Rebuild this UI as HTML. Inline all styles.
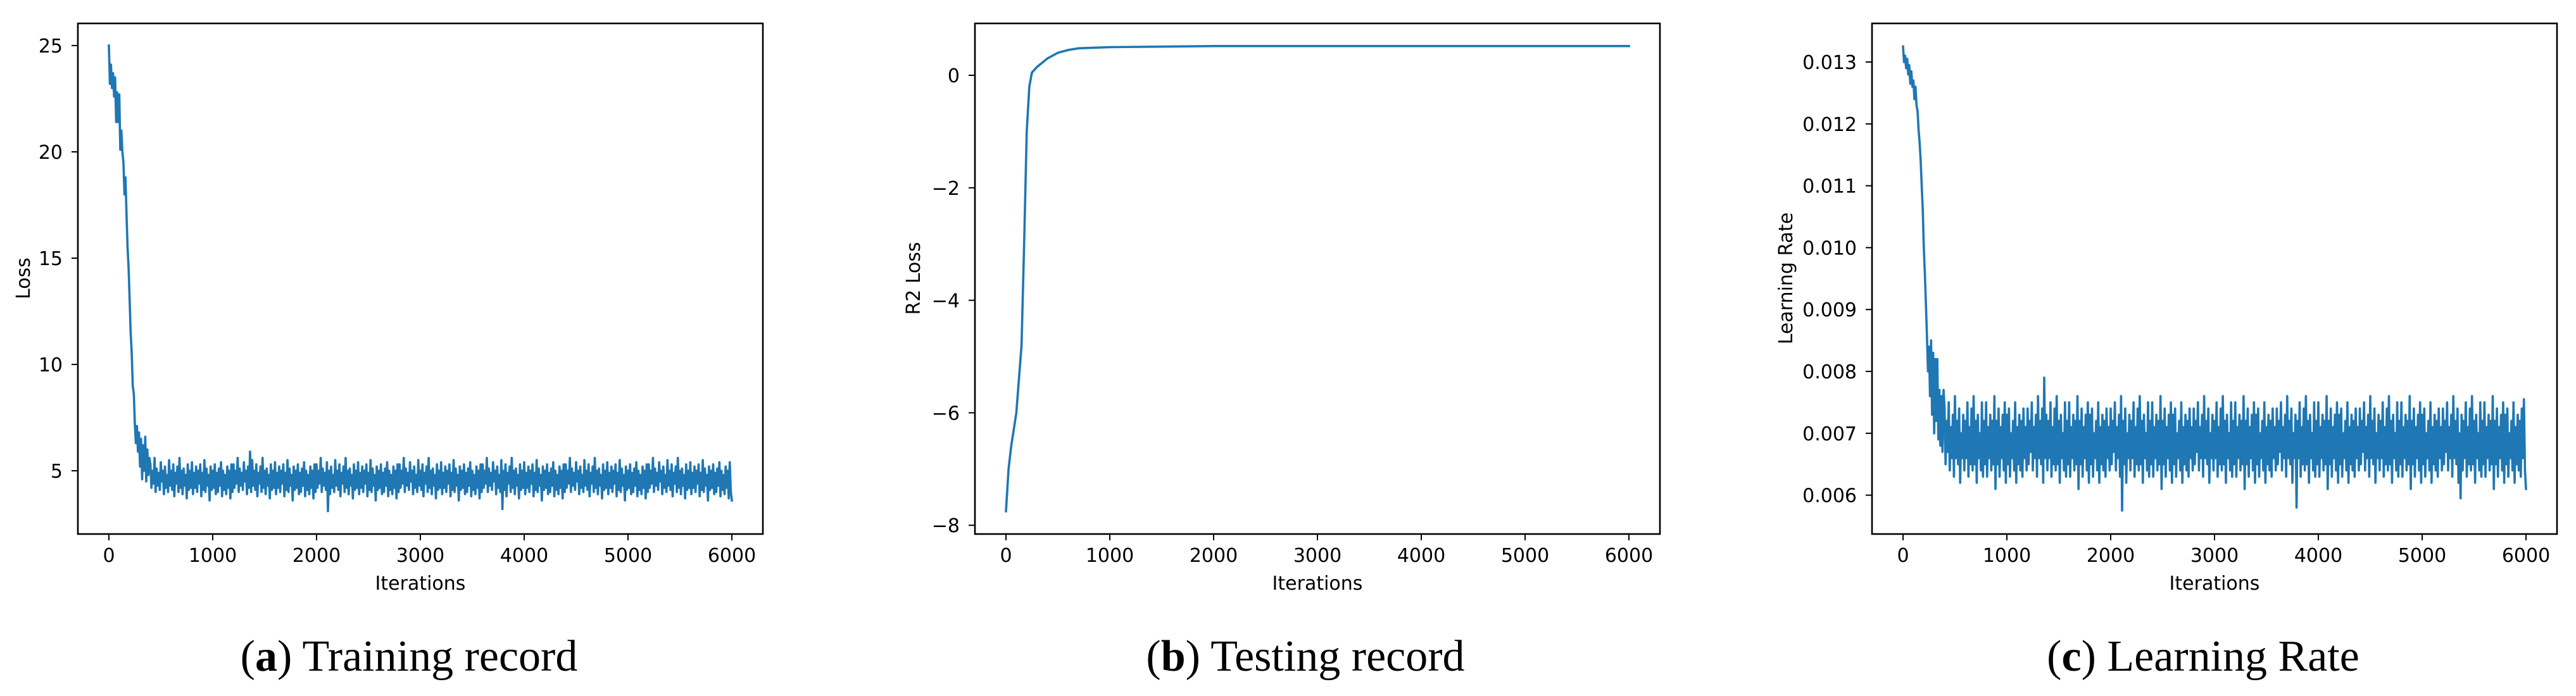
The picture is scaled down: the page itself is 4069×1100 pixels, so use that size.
<!DOCTYPE html>
<html><head><meta charset="utf-8"><style>
html,body{margin:0;padding:0;background:#fff;}
svg{display:block;}
.tk{font-family:"DejaVu Sans","Liberation Sans",sans-serif;font-size:30px;fill:#000;}
.cap{font-family:"Liberation Serif",serif;font-size:70px;fill:#000;}
</style></head><body>
<svg id="fig" width="4069" height="1100" viewBox="0 0 4069 1100" xmlns="http://www.w3.org/2000/svg"></svg>
<script>
const lossStep = 10;
const lossValues = [25.0,23.2,24.1,23.0,23.7,22.6,23.5,21.4,22.8,21.4,22.7,20.1,21.0,20.0,19.5,18.0,18.8,17.0,15.5,14.5,13.0,11.5,10.5,9.0,8.6,7.2,6.3,7.1,5.9,6.8,5.2,6.5,4.6,6.2,5.0,6.6,4.5,6.0,4.8,5.6,
5.3,4.2,5.0,4.4,5.6,4.0,5.1,4.3,4.9,4.1,5.4,4.5,5.0,3.9,5.2,4.2,4.8,4.0,5.5,4.3,
5.0,4.1,5.3,3.8,4.9,4.4,5.2,4.0,5.6,4.2,5.0,3.9,5.1,4.3,4.8,3.7,5.3,4.1,5.0,4.2,
5.4,3.9,4.9,4.2,5.2,4.0,5.0,4.4,5.3,3.8,4.9,4.1,5.5,4.0,5.1,4.3,4.8,3.6,5.2,4.1,
5.0,4.2,5.3,3.9,4.9,4.0,5.1,4.3,5.4,3.8,5.0,4.1,4.8,3.9,5.2,4.2,5.0,3.7,5.3,4.0,
5.3,4.2,5.0,4.4,5.6,4.0,5.1,4.3,4.9,4.1,5.4,4.5,5.0,3.9,5.2,4.2,5.9,4.0,5.5,4.3,
5.0,4.1,5.3,3.8,4.9,4.4,5.2,4.0,5.6,4.2,5.0,3.9,5.1,4.3,4.8,3.7,5.3,4.1,5.0,4.2,
5.4,3.9,4.9,4.2,5.2,4.0,5.0,4.4,5.3,3.8,4.9,4.1,5.5,4.0,5.1,4.3,4.8,3.6,5.2,4.1,
5.0,4.2,5.3,3.9,4.9,4.0,5.1,4.3,5.4,3.8,5.0,4.1,4.8,3.9,5.2,4.2,5.0,3.7,5.3,4.0,
5.3,4.2,5.0,4.4,5.6,4.0,5.1,4.3,4.9,4.1,5.4,3.1,5.0,3.9,5.2,4.2,4.8,4.0,5.5,4.3,
5.0,4.1,5.3,3.8,4.9,4.4,5.2,4.0,5.6,4.2,5.0,3.9,5.1,4.3,4.8,3.7,5.3,4.1,5.0,4.2,
5.4,3.9,4.9,4.2,5.2,4.0,5.0,4.4,5.3,3.8,4.9,4.1,5.5,4.0,5.1,4.3,4.8,3.6,5.2,4.1,
5.0,4.2,5.3,3.9,4.9,4.0,5.1,4.3,5.4,3.8,5.0,4.1,4.8,3.9,5.2,4.2,5.0,3.7,5.3,4.0,
5.3,4.2,5.0,4.4,5.6,4.0,5.1,4.3,4.9,4.1,5.4,4.5,5.0,3.9,5.2,4.2,4.8,4.0,5.5,4.3,
5.0,4.1,5.3,3.8,4.9,4.4,5.2,4.0,5.6,4.2,5.0,3.9,5.1,4.3,4.8,3.7,5.3,4.1,5.0,4.2,
5.4,3.9,4.9,4.2,5.2,4.0,5.0,4.4,5.3,3.8,4.9,4.1,5.5,4.0,5.1,4.3,4.8,3.6,5.2,4.1,
5.0,4.2,5.3,3.9,4.9,4.0,5.1,4.3,5.4,3.8,5.0,4.1,4.8,3.9,5.2,4.2,5.0,3.7,5.3,4.0,
5.3,4.2,5.0,4.4,5.6,4.0,5.1,4.3,4.9,4.1,5.4,4.5,5.0,3.9,5.2,4.2,4.8,4.0,5.5,3.2,
5.0,4.1,5.3,3.8,4.9,4.4,5.2,4.0,5.6,4.2,5.0,3.9,5.1,4.3,4.8,3.7,5.3,4.1,5.0,4.2,
5.4,3.9,4.9,4.2,5.2,4.0,5.0,4.4,5.3,3.8,4.9,4.1,5.5,4.0,5.1,4.3,4.8,3.6,5.2,4.1,
5.0,4.2,5.3,3.9,4.9,4.0,5.1,4.3,5.4,3.8,5.0,4.1,4.8,3.9,5.2,4.2,5.0,3.7,5.3,4.0,
5.3,4.2,5.0,4.4,5.6,4.0,5.1,4.3,4.9,4.1,5.4,4.5,5.0,3.9,5.2,4.2,4.8,4.0,5.5,4.3,
5.0,4.1,5.3,3.8,4.9,4.4,5.2,4.0,5.6,4.2,5.0,3.9,5.1,4.3,4.8,3.7,5.3,4.1,5.0,4.2,
5.4,3.9,4.9,4.2,5.2,4.0,5.0,4.4,5.3,3.8,4.9,4.1,5.5,4.0,5.1,4.3,4.8,3.6,5.2,4.1,
5.0,4.2,5.3,3.9,4.9,4.0,5.1,4.3,5.4,3.8,5.0,4.1,4.8,3.9,5.2,4.2,5.0,3.7,5.3,4.0,
5.3,4.2,5.0,4.4,5.6,4.0,5.1,4.3,4.9,4.1,5.4,4.5,5.0,3.9,5.2,4.2,4.8,4.0,5.5,4.3,
5.0,4.1,5.3,3.8,4.9,4.4,5.2,4.0,5.6,4.2,5.0,3.9,5.1,4.3,4.8,3.7,5.3,4.1,5.0,4.2,
5.4,3.9,4.9,4.2,5.2,4.0,5.0,4.4,5.3,3.8,4.9,4.1,5.5,4.0,5.1,4.3,4.8,3.6,5.2,4.1,
5.0,4.2,5.3,3.9,4.9,4.0,5.1,4.3,5.4,3.8,5.0,4.1,4.8,3.9,5.2,4.2,5.0,3.7,5.4,4.0,
3.6];
const lossTicks = [5,10,15,20,25];
const r2Iters = [0,25,50,100,150,175,200,225,250,300,400,500,600,700,850,1000,1500,2000,3000,4000,5000,6000];
const r2Values = [-7.75,-7.0,-6.6,-6.0,-4.8,-3.0,-1.0,-0.2,0.05,0.15,0.3,0.4,0.45,0.48,0.49,0.5,0.51,0.52,0.52,0.52,0.52,0.52];
const r2Ticks = [-8,-6,-4,-2,0];
const r2TickLabels = ["\u22128","\u22126","\u22124","\u22122","0"];
const lrStep = 10;
const lrMilli = [13.25,13.0,13.1,12.9,13.05,12.8,12.95,12.65,12.85,12.6,12.7,12.4,12.6,12.3,12.2,11.9,11.7,11.4,11.0,10.6,10.0,9.6,9.1,8.6,8.0,8.4,7.6,8.5,7.3,8.3,7.0,8.2,7.2,8.2,6.9,7.7,6.8,7.6,6.7,7.7,
7.4,6.5,7.2,6.7,7.5,6.4,7.1,6.6,7.3,6.3,7.6,6.6,7.2,6.5,7.4,6.2,7.0,6.6,7.3,6.4,
7.2,6.6,7.5,6.3,7.1,6.5,7.4,6.4,7.6,6.5,7.2,6.2,7.3,6.6,7.0,6.4,7.5,6.3,7.2,6.5,
7.5,6.3,7.1,6.6,7.3,6.4,7.2,6.5,7.6,6.1,7.2,6.5,7.4,6.3,7.1,6.6,7.3,6.4,7.5,6.2,
7.3,6.5,7.4,6.3,7.0,6.6,7.2,6.4,7.5,6.2,7.1,6.5,7.3,6.4,7.2,6.3,7.4,6.6,7.1,6.4,
7.4,6.5,7.2,6.7,7.5,6.4,7.1,6.6,7.3,6.3,7.6,6.6,7.2,6.5,7.4,6.2,7.9,6.6,7.3,6.4,
7.2,6.6,7.5,6.3,7.1,6.5,7.4,6.4,7.6,6.5,7.2,6.2,7.3,6.6,7.0,6.4,7.5,6.3,7.2,6.5,
7.5,6.3,7.1,6.6,7.3,6.4,7.2,6.5,7.6,6.1,7.2,6.5,7.4,6.3,7.1,6.6,7.3,6.4,7.5,6.2,
7.3,6.5,7.4,6.3,7.0,6.6,7.2,6.4,7.5,6.2,7.1,6.5,7.3,6.4,7.2,6.3,7.4,6.6,7.1,6.4,
7.4,6.5,7.2,6.7,7.5,6.4,7.1,6.6,7.3,6.3,7.6,5.75,7.2,6.5,7.4,6.2,7.0,6.6,7.3,6.4,
7.2,6.6,7.5,6.3,7.1,6.5,7.4,6.4,7.6,6.5,7.2,6.2,7.3,6.6,7.0,6.4,7.5,6.3,7.2,6.5,
7.5,6.3,7.1,6.6,7.3,6.4,7.2,6.5,7.6,6.1,7.2,6.5,7.4,6.3,7.1,6.6,7.3,6.4,7.5,6.2,
7.3,6.5,7.4,6.3,7.0,6.6,7.2,6.4,7.5,6.2,7.1,6.5,7.3,6.4,7.2,6.3,7.4,6.6,7.1,6.4,
7.4,6.5,7.2,6.7,7.5,6.4,7.1,6.6,7.3,6.3,7.6,6.6,7.2,6.5,7.4,6.2,7.0,6.6,7.3,6.4,
7.2,6.6,7.5,6.3,7.1,6.5,7.4,6.4,7.6,6.5,7.2,6.2,7.3,6.6,7.0,6.4,7.5,6.3,7.2,6.5,
7.5,6.3,7.1,6.6,7.3,6.4,7.2,6.5,7.6,6.1,7.2,6.5,7.4,6.3,7.1,6.6,7.3,6.4,7.5,6.2,
7.3,6.5,7.4,6.3,7.0,6.6,7.2,6.4,7.5,6.2,7.1,6.5,7.3,6.4,7.2,6.3,7.4,6.6,7.1,6.4,
7.4,6.5,7.2,6.7,7.5,6.4,7.1,6.6,7.3,6.3,7.6,6.6,7.2,6.5,7.4,6.2,7.0,6.6,7.3,5.8,
7.2,6.6,7.5,6.3,7.1,6.5,7.4,6.4,7.6,6.5,7.2,6.2,7.3,6.6,7.0,6.4,7.5,6.3,7.2,6.5,
7.5,6.3,7.1,6.6,7.3,6.4,7.2,6.5,7.6,6.1,7.2,6.5,7.4,6.3,7.1,6.6,7.3,6.4,7.5,6.2,
7.3,6.5,7.4,6.3,7.0,6.6,7.2,6.4,7.5,6.2,7.1,6.5,7.3,6.4,7.2,6.3,7.4,6.6,7.1,6.4,
7.4,6.5,7.2,6.7,7.5,6.4,7.1,6.6,7.3,6.3,7.6,6.6,7.2,6.5,7.4,6.2,7.0,6.6,7.3,6.4,
7.2,6.6,7.5,6.3,7.1,6.5,7.4,6.4,7.6,6.5,7.2,6.2,7.3,6.6,7.0,6.4,7.5,6.3,7.2,6.5,
7.5,6.3,7.1,6.6,7.3,6.4,7.2,6.5,7.6,6.1,7.2,6.5,7.4,6.3,7.1,6.6,7.3,6.4,7.5,6.2,
7.3,6.5,7.4,6.3,7.0,6.6,7.2,6.4,7.5,6.2,7.1,6.5,7.3,6.4,7.2,6.3,7.4,6.6,7.1,6.4,
7.4,6.5,7.2,6.7,7.5,6.4,7.1,6.6,7.3,6.3,7.6,6.6,7.2,6.5,7.4,6.2,7.0,5.95,7.3,6.4,
7.2,6.6,7.5,6.3,7.1,6.5,7.4,6.4,7.6,6.5,7.2,6.2,7.3,6.6,7.0,6.4,7.5,6.3,7.2,6.5,
7.5,6.3,7.1,6.6,7.3,6.4,7.2,6.5,7.6,6.1,7.2,6.5,7.4,6.3,7.1,6.6,7.3,6.4,7.5,6.2,
7.3,6.5,7.4,6.3,7.0,6.6,7.2,6.4,7.5,6.2,7.1,6.5,7.3,6.4,7.2,6.3,7.4,6.6,7.55,6.4,
6.1];
const lrTicks = [6,7,8,9,10,11,12,13];
const lrTickLabels = ["0.006","0.007","0.008","0.009","0.010","0.011","0.012","0.013"];
const xTicks = [0,1000,2000,3000,4000,5000,6000];

const NS="http://www.w3.org/2000/svg";
const fig=document.getElementById('fig');
function mk(tag,attrs,parent){const e=document.createElementNS(NS,tag);for(const k in attrs)e.setAttribute(k,attrs[k]);(parent||fig).appendChild(e);return e;}

function panel(cfg){
  const g=mk('g',{});
  
  
  const L=cfg.left,R=cfg.right,T=37,B=844;
  const xs=v=>cfg.x0+v*(cfg.x6000-cfg.x0)/6000;
  const ys=v=>cfg.yRef+(cfg.vRef-v)*cfg.ppu;
  let d='';
  cfg.xsData.forEach((xv,i)=>{d+=(i?'L':'M')+xs(xv).toFixed(1)+' '+ys(cfg.ysData[i]).toFixed(1);});
  const ln=mk('path',{d:d,fill:'none',stroke:'#1f77b4','stroke-width':3.6,'stroke-linejoin':'round','stroke-linecap':'square'},g);
  
  
  const fr=mk('rect',{x:L,y:T,width:R-L,height:B-T,fill:'none',stroke:'#000','stroke-width':2.6},g);
  
  
  xTicks.forEach(t=>{
    const x=xs(t);
    mk('line',{x1:x,x2:x,y1:B,y2:B+10,stroke:'#000','stroke-width':2},g);
    const tx=mk('text',{x:x,y:888,'text-anchor':'middle',class:'tk'},g);
    tx.textContent=String(t);
    
    
  });
  cfg.yTicks.forEach((t,i)=>{
    const y=ys(t);
    mk('line',{x1:L-10,x2:L,y1:y,y2:y,stroke:'#000','stroke-width':2},g);
    const tx=mk('text',{x:L-24,y:y+11,'text-anchor':'end',class:'tk'},g);
    tx.textContent=cfg.yLabels[i];
    
    
  });
  const xl=mk('text',{x:(L+R)/2,y:932,'text-anchor':'middle',class:'tk'},g);
  xl.textContent='Iterations';
  
  
  const yl=mk('text',{x:0,y:0,'text-anchor':'middle',class:'tk',transform:'translate('+(cfg.ylx+11)+',440) rotate(-90)'},g);
  yl.textContent=cfg.ylabel;
  
  
  const cp=mk('text',{x:cfg.capx,y:1060,'text-anchor':'middle',class:'cap'},g);
  const t1=mk('tspan',{},cp);t1.textContent='(';
  const t2=mk('tspan',{'font-weight':'bold'},cp);t2.textContent=cfg.letter;
  const t3=mk('tspan',{},cp);t3.textContent=') '+cfg.caption;
  
  
}
panel({name:'training-record-chart',left:123,right:1205,x0:172,x6000:1156,
  yRef:72,vRef:25,ppu:33.6,xsData:lossValues.map((v,i)=>i*lossStep),ysData:lossValues,
  yTicks:lossTicks,yLabels:lossTicks.map(String),ylabel:'Loss',ylx:36,capx:646,letter:'a',caption:'Training record'});
panel({name:'testing-record-chart',left:1540,right:2622,x0:1589,x6000:2573,
  yRef:119,vRef:0,ppu:88.9,xsData:r2Iters,ysData:r2Values,
  yTicks:r2Ticks,yLabels:r2TickLabels,ylabel:'R2 Loss',ylx:1442,capx:2062,letter:'b',caption:'Testing record'});
panel({name:'learning-rate-chart',left:2957,right:4039,x0:3006,x6000:3990,
  yRef:98,vRef:13,ppu:97.8,xsData:lrMilli.map((v,i)=>i*lrStep),ysData:lrMilli,
  yTicks:lrTicks,yLabels:lrTickLabels,ylabel:'Learning Rate',ylx:2820,capx:3480,letter:'c',caption:'Learning Rate'});
</script>
</body></html>
